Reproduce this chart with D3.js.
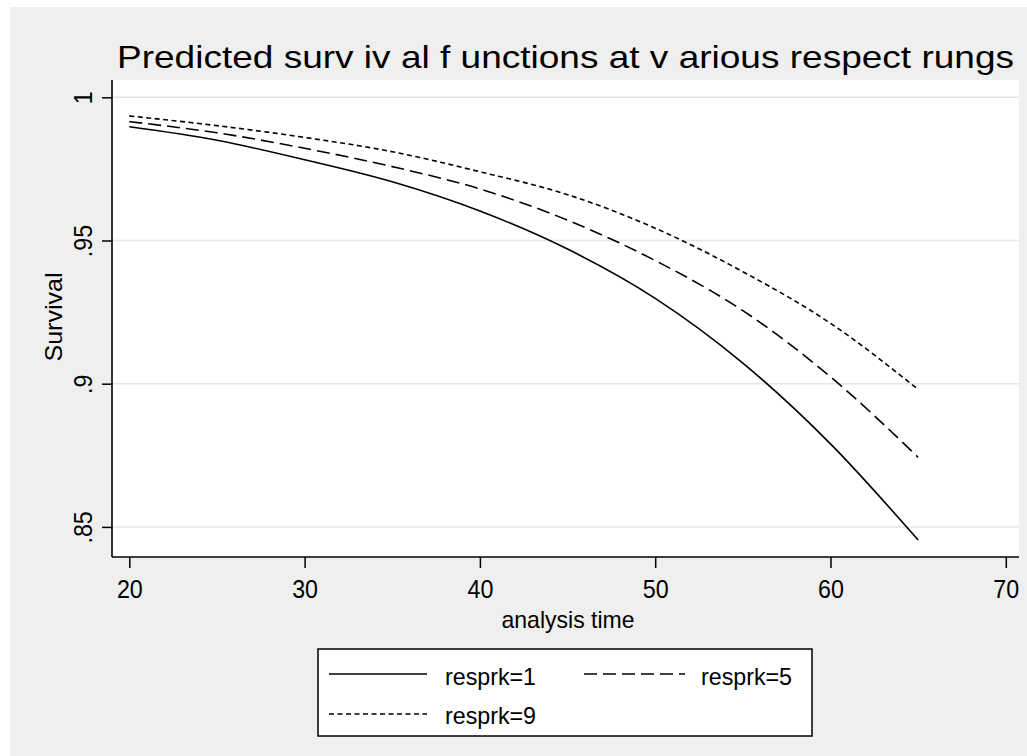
<!DOCTYPE html>
<html>
<head>
<meta charset="utf-8">
<script src="https://cdn.jsdelivr.net/npm/d3@7"></script>
<style>
  html, body { margin: 0; padding: 0; background: #ffffff; }
  svg { display: block; }
  text { font-family: "Liberation Sans", Arial, sans-serif; fill: #000; }
</style>
</head>
<body>
<svg id="chart" width="1027" height="756"></svg>
<script>
// ---- data ----
const times = [20, 25, 30, 35, 40, 45, 50, 55, 60, 65];
const resprk1 = [0.9897, 0.9850, 0.9782, 0.9705, 0.9603, 0.9470, 0.9298, 0.9072, 0.8790, 0.8454];
const resprk5 = [0.9915, 0.9876, 0.9822, 0.9758, 0.9680, 0.9571, 0.9430, 0.9255, 0.9024, 0.8743];
const resprk9 = [0.9935, 0.9901, 0.9860, 0.9810, 0.9740, 0.9660, 0.9543, 0.9391, 0.9211, 0.8980];
const seriesNames = ["resprk=1", "resprk=5", "resprk=9"];
const xTicks = [20, 30, 40, 50, 60, 70];
const yTicks = [0.85, 0.9, 0.95, 1];
const yTickLabels = [".85", ".9", ".95", "1"];
const titleText = "Predicted surv iv al f unctions at v arious respect rungs";
const xTitle = "analysis time";
const yTitle = "Survival";

// ---- layout ----
const svg = d3.select("#chart");
const plot = { left: 112, top: 80, right: 1019, bottom: 557 };
const dashStyles = [null, "13,6", "5,3.5"];

svg.append("rect").attr("x", 10).attr("y", 7).attr("width", 1017).attr("height", 749)
  .attr("fill", "#efefef");

svg.append("rect").attr("x", plot.left).attr("y", plot.top)
  .attr("width", plot.right - plot.left).attr("height", plot.bottom - plot.top)
  .attr("fill", "#ffffff");

const x = d3.scaleLinear().domain([19.013, 70.753]).range([plot.left, plot.right]);
const y = d3.scaleLinear().domain([0.83949, 1.00604]).range([plot.bottom, plot.top]);

// gridlines
svg.append("g").selectAll("line").data(yTicks).join("line")
  .attr("x1", plot.left).attr("x2", plot.right)
  .attr("y1", d => y(d)).attr("y2", d => y(d))
  .attr("stroke", "#e6e6e6").attr("stroke-width", 1.5);

// series
const series = [resprk1, resprk5, resprk9];
const line = d3.line().x(d => x(d[0])).y(d => y(d[1])).curve(d3.curveMonotoneX);
series.forEach((vals, i) => {
  const pts = times.map((t, j) => [t, vals[j]]);
  svg.append("path").datum(pts)
    .attr("d", line)
    .attr("fill", "none")
    .attr("stroke", "#000")
    .attr("stroke-width", 1.6)
    .attr("stroke-dasharray", dashStyles[i]);
});

// x axis
const xAxis = svg.append("g").attr("transform", `translate(0,${plot.bottom})`)
  .call(d3.axisBottom(x).tickValues(xTicks).tickSize(11).tickPadding(5).tickFormat(d3.format("d")));
xAxis.select(".domain").attr("stroke", "#000").attr("stroke-width", 1.6)
  .attr("d", `M${plot.left},0H${plot.right}`);
xAxis.selectAll(".tick line").attr("stroke", "#000").attr("stroke-width", 1.5);
xAxis.selectAll(".tick text")
  .attr("font-size", 25).attr("font-family", "Liberation Sans, Arial, sans-serif")
  .attr("fill", "#000")
  .attr("dy", null).attr("y", 41)
  .attr("transform", "scale(0.93,1)");

// y axis
const yAxis = svg.append("g").attr("transform", `translate(${plot.left},0)`)
  .call(d3.axisLeft(y).tickValues(yTicks).tickSize(10)
    .tickFormat((d, i) => yTickLabels[i]));
yAxis.select(".domain").attr("stroke", "#000").attr("stroke-width", 1.6)
  .attr("d", `M0,${plot.top}V${plot.bottom}`);
yAxis.selectAll(".tick line").attr("stroke", "#000").attr("stroke-width", 1.5);
yAxis.selectAll(".tick text")
  .attr("font-size", 25).attr("font-family", "Liberation Sans, Arial, sans-serif")
  .attr("fill", "#000")
  .attr("x", null).attr("dy", null)
  .attr("text-anchor", "middle")
  .attr("transform", "translate(-20,0) rotate(-90) scale(0.93,1)");

// title
svg.append("text").attr("x", 117).attr("y", 68)
  .attr("font-size", 32)
  .attr("textLength", 897).attr("lengthAdjust", "spacingAndGlyphs")
  .text(titleText);

// axis titles
svg.append("text").attr("x", 568).attr("y", 628)
  .attr("text-anchor", "middle").attr("font-size", 24)
  .attr("textLength", 133).attr("lengthAdjust", "spacingAndGlyphs")
  .text(xTitle);

svg.append("text")
  .attr("transform", `translate(62,317) rotate(-90)`)
  .attr("text-anchor", "middle").attr("font-size", 24)
  .attr("textLength", 89).attr("lengthAdjust", "spacingAndGlyphs")
  .text(yTitle);

// legend
const legend = svg.append("g");
legend.append("rect").attr("x", 318).attr("y", 649).attr("width", 494).attr("height", 87)
  .attr("fill", "#fff").attr("stroke", "#000").attr("stroke-width", 1.5);
const legendPos = [
  { lx1: 329, lx2: 427, ly: 674, tx: 445, ty: 685 },
  { lx1: 584, lx2: 685, ly: 674, tx: 701, ty: 685 },
  { lx1: 329, lx2: 427, ly: 714, tx: 445, ty: 724 }
];
seriesNames.forEach((name, i) => {
  const p = legendPos[i];
  legend.append("line").attr("x1", p.lx1).attr("x2", p.lx2).attr("y1", p.ly).attr("y2", p.ly)
    .attr("stroke", "#000").attr("stroke-width", 1.6).attr("stroke-dasharray", dashStyles[i]);
  legend.append("text").attr("x", p.tx).attr("y", p.ty).attr("font-size", 24)
    .attr("textLength", 91).attr("lengthAdjust", "spacingAndGlyphs")
    .text(name);
});
</script>
</body>
</html>
